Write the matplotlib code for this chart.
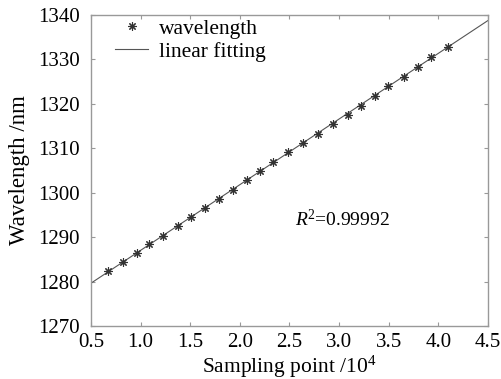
import numpy as np
import matplotlib
matplotlib.use("Agg")
import matplotlib.pyplot as plt

plt.rcParams['font.family'] = ['Liberation Serif', 'DejaVu Serif']
plt.rcParams['mathtext.fontset'] = 'custom'
plt.rcParams['mathtext.rm'] = 'Liberation Serif'
plt.rcParams['mathtext.it'] = 'Liberation Serif:italic'

sampling_point = [0.672, 0.823, 0.965, 1.086, 1.227, 1.379, 1.51, 1.652, 1.793, 1.934,
                  2.07, 2.207, 2.338, 2.49, 2.64, 2.79, 2.94, 3.086, 3.217, 3.36,
                  3.49, 3.65, 3.79, 3.93, 4.10]
wavelength = [1282.4, 1284.4, 1286.4, 1288.5, 1290.3, 1292.5, 1294.5, 1296.6, 1298.6, 1300.6,
              1302.8, 1304.9, 1306.9, 1309.2, 1311.2, 1313.2, 1315.5, 1317.5, 1319.5, 1321.8,
              1324.0, 1326.0, 1328.3, 1330.5, 1332.8]
xticks = [0.5, 1.0, 1.5, 2.0, 2.5, 3.0, 3.5, 4.0, 4.5]
yticks = [1270, 1280, 1290, 1300, 1310, 1320, 1330, 1340]

fig = plt.figure(figsize=(5.01, 3.79), dpi=100)
ax = fig.add_axes([0.1816, 0.1398, 0.7924, 0.8219])

coef = np.polyfit(sampling_point, wavelength, 1)
xf = np.array([xticks[0], xticks[-1]])
ax.plot(xf, np.polyval(coef, xf), color='#555555', lw=0.8, label='linear fitting', zorder=2)
ax.plot(sampling_point, wavelength, linestyle='none', marker=(8, 2, 0), ms=6, mew=0.8,
        color='#333333', label='wavelength', zorder=3)

ax.set_xlim(xticks[0], xticks[-1])
ax.set_ylim(yticks[0], yticks[-1])
ax.set_xticks(xticks)
ax.set_xticklabels([f"{v:.1f}" for v in xticks])
ax.set_yticks(yticks)
ax.tick_params(direction='in', length=3, width=0.8, color='#999999', labelsize=15,
               top=True, right=True)
ax.tick_params(axis='x', pad=5)
ax.tick_params(axis='y', pad=8)
for s in ax.spines.values():
    s.set_color('#999999')
    s.set_linewidth(1.0)

ax.set_xlabel('Sampling point /10$^4$', fontsize=15.5, labelpad=1)
ax.set_ylabel('Wavelength /nm', fontsize=16.5, labelpad=6)

ax.text(2.56, 1293.9, '$R$$^2$=0.99992', fontsize=14, va='center', ha='left')

h, l = ax.get_legend_handles_labels()
ax.legend(h[::-1], l[::-1], loc='upper left', bbox_to_anchor=(0.039, 1.015), frameon=False,
          fontsize=15.5, handlelength=1.55, borderaxespad=0, borderpad=0.4,
          labelspacing=0.15, handletextpad=0.47)

fig.savefig('out.png', dpi=100)
